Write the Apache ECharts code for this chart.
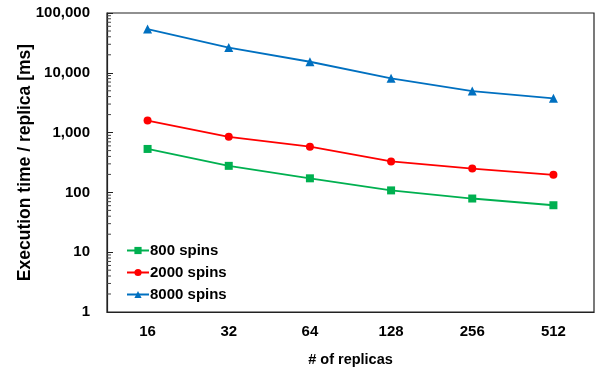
<!DOCTYPE html>
<html>
<head>
<meta charset="utf-8">
<script src="https://cdn.jsdelivr.net/npm/echarts@6/dist/echarts.min.js"></script>
<style>
  html, body { margin: 0; padding: 0; background: #fff; }
  #chart { width: 600px; height: 372px; }
</style>
</head>
<body>
<div id="chart"></div>
<script>
// x categories: number of replicas
const replicas = ['16', '32', '64', '128', '256', '512'];

// execution time / replica [ms]
const spins800 = [533, 278, 172, 108, 79, 61];
const spins2000 = [1590, 850, 582, 330, 250, 197];
const spins8000 = [54000, 26400, 15300, 8070, 4940, 3750];

// minor ticks of the log axis (2..9 per decade)
const minorTickValues = [];
[1, 10, 100, 1000, 10000].forEach(function (d) {
  for (let k = 2; k <= 9; k++) minorTickValues.push(k * d);
});

const FONT = '"Liberation Sans", Arial, sans-serif';

const chart = echarts.init(document.getElementById('chart'));

function fmtThousands(v) {
  return String(Math.round(v)).replace(/\B(?=(\d{3})+(?!\d))/g, ',');
}

function lineSeries(name, data, color, symbol, size) {
  return {
    name: name,
    type: 'line',
    data: data,
    symbol: symbol,
    symbolSize: size,
    smooth: false,
    lineStyle: { color: color, width: 1.8 },
    itemStyle: { color: color },
    z: 3
  };
}

const option = {
  animation: false,
  grid: {
    left: 107,
    right: 6,
    top: 13,
    bottom: 54,
    show: true,
    borderColor: '#222',
    borderWidth: 1.2
  },
  legend: {
    orient: 'vertical',
    left: 121,
    top: 238,
    itemGap: 7,
    itemWidth: 22,
    itemHeight: 9,
    data: ['800 spins', '2000 spins', '8000 spins'],
    textStyle: { fontFamily: FONT, fontWeight: 'bold', fontSize: 15, color: '#000', padding: [0, 0, 0, -4] }
  },
  xAxis: {
    type: 'category',
    data: replicas,
    boundaryGap: true,
    name: '# of replicas',
    nameLocation: 'middle',
    nameGap: 40,
    nameMoveOverlap: false,
    nameTextStyle: { fontFamily: FONT, fontWeight: 'bold', fontSize: 14.5, color: '#000' },
    axisLine: { lineStyle: { color: '#222', width: 1.2 } },
    axisTick: { show: false },
    axisLabel: { fontFamily: FONT, fontWeight: 'bold', fontSize: 15, color: '#000', margin: 12 },
    splitLine: { show: false }
  },
  yAxis: {
    type: 'log',
    logBase: 10,
    min: 1,
    max: 100000,
    name: 'Execution time / replica [ms]',
    nameLocation: 'middle',
    nameGap: 73,
    nameMoveOverlap: false,
    nameTextStyle: { fontFamily: FONT, fontWeight: 'bold', fontSize: 17.5, color: '#000' },
    axisLine: { show: true, lineStyle: { color: '#222', width: 1.2 } },
    axisTick: { show: true, inside: true, length: 6, lineStyle: { color: '#222' } },
    axisLabel: {
      fontFamily: FONT, fontWeight: 'bold', fontSize: 15, color: '#000', margin: 17,
      formatter: fmtThousands
    },
    splitLine: { show: false }
  },
  series: [
    lineSeries('800 spins', spins800, '#00B050', 'rect', 8),
    lineSeries('2000 spins', spins2000, '#FF0000', 'circle', 8),
    lineSeries('8000 spins', spins8000, '#0070C0', 'triangle', 9),
    {
      type: 'custom',
      silent: true,
      z: 2,
      data: minorTickValues.map(function (v) { return [0, v]; }),
      renderItem: function (params, api) {
        const p = api.coord([0, api.value(1)]);
        const x0 = params.coordSys.x;
        return {
          type: 'line',
          shape: { x1: x0, y1: p[1], x2: x0 + 4, y2: p[1] },
          style: { stroke: '#444', lineWidth: 1 }
        };
      }
    }
  ]
};

chart.setOption(option);
</script>
</body>
</html>
